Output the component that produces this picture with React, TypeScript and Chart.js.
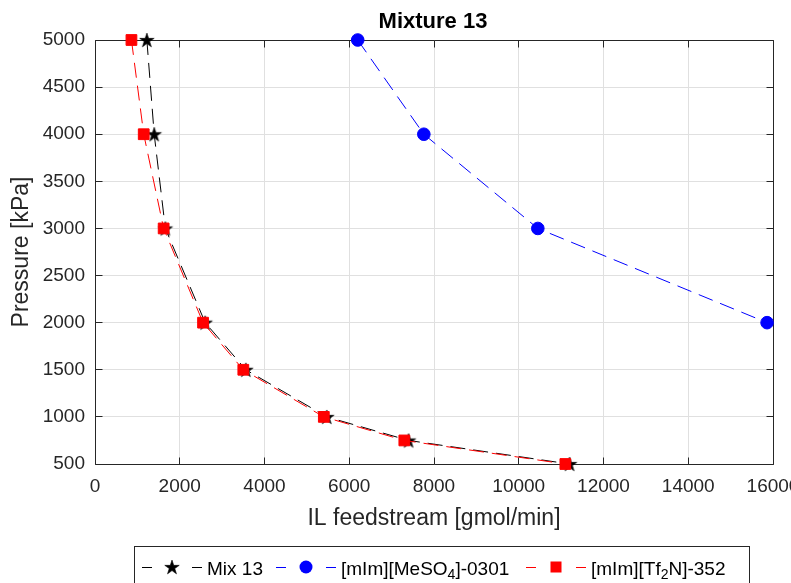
import React, { useEffect, useRef } from "react";
import { Chart, registerables } from "chart.js";

Chart.register(...registerables);

// ---- data ----
const xTickValues = [0, 2000, 4000, 6000, 8000, 10000, 12000, 14000, 16000];
const yTickValues = [500, 1000, 1500, 2000, 2500, 3000, 3500, 4000, 4500, 5000];

const mixPressures = [5000, 4000, 3000, 2000, 1500, 1000, 750, 500];
const mix13Feed = [1224, 1397, 1660, 2600, 3560, 5470, 7400, 11200];

const mesPressures = [5000, 4000, 3000, 2000];
const mesFeed = [6200, 7760, 10450, 15860];

const tf2nPressures = [5000, 4000, 3000, 2000, 1500, 1000, 750, 500];
const tf2nFeed = [860, 1150, 1620, 2550, 3500, 5400, 7300, 11100];

const titleText = "Mixture 13";
const xTitle = "IL feedstream [gmol/min]";
const yTitle = "Pressure [kPa]";

type Seg = { t: string; sub?: boolean };
const legendLabels: Seg[][] = [
  [{ t: "Mix 13" }],
  [{ t: "[mIm][MeSO" }, { t: "4", sub: true }, { t: "]-0301" }],
  [{ t: "[mIm][Tf" }, { t: "2", sub: true }, { t: "N]-352" }],
];

const FONT = "'Liberation Sans', Arial, Helvetica, sans-serif";
const AXIS_COLOR = "#262626";
const GRID_COLOR = "#e0e0e0";
const BLACK = "#000000";
const BLUE = "#0000ff";
const RED = "#ff0000";
const DASH = [15, 8];

function makeStar(): HTMLCanvasElement {
  const c = document.createElement("canvas");
  c.width = 18;
  c.height = 18;
  const g = c.getContext("2d")!;
  const cx = 9, cy = 9.7, R = 7.6, r = 2.9;
  g.beginPath();
  for (let i = 0; i < 10; i++) {
    const rad = i % 2 === 0 ? R : r;
    const a = -Math.PI / 2 + (i * Math.PI) / 5;
    const px = cx + rad * Math.cos(a);
    const py = cy + rad * Math.sin(a);
    if (i === 0) g.moveTo(px, py);
    else g.lineTo(px, py);
  }
  g.closePath();
  g.fillStyle = BLACK;
  g.fill();
  g.strokeStyle = BLACK;
  g.lineWidth = 0.6;
  g.stroke();
  return c;
}

const al = (p: number) => Math.round(p - 0.5) + 0.5;

function makePlugin(star: HTMLCanvasElement) {
  return {
    id: "matlabLook",
    beforeDatasetsDraw(chart: any) {
      const { ctx, chartArea: a, scales } = chart;
      const xs = scales.x, ys = scales.y;
      const L = al(a.left), R = al(a.right), T = al(a.top), B = al(a.bottom);
      ctx.save();
      ctx.strokeStyle = AXIS_COLOR;
      ctx.lineWidth = 1;
      ctx.beginPath();
      ctx.rect(L, T, R - L, B - T);
      const tl = 7;
      xTickValues.forEach((v) => {
        const px = al(xs.getPixelForValue(v));
        ctx.moveTo(px, B);
        ctx.lineTo(px, B - tl);
        ctx.moveTo(px, T);
        ctx.lineTo(px, T + tl);
      });
      yTickValues.forEach((v) => {
        const py = al(ys.getPixelForValue(v));
        ctx.moveTo(L, py);
        ctx.lineTo(L + tl, py);
        ctx.moveTo(R, py);
        ctx.lineTo(R - tl, py);
      });
      ctx.stroke();

      // x tick labels (centred on tick, may run off the page on the right)
      ctx.fillStyle = AXIS_COLOR;
      ctx.font = `19px ${FONT}`;
      ctx.textAlign = "center";
      ctx.textBaseline = "middle";
      xTickValues.forEach((v) => {
        ctx.fillText(String(v), xs.getPixelForValue(v), a.bottom + 23);
      });
      ctx.restore();
    },
    afterDraw(chart: any) {
      const { ctx, chartArea: a } = chart;
      ctx.save();
      // title
      ctx.fillStyle = BLACK;
      ctx.font = `bold 22px ${FONT}`;
      ctx.textAlign = "center";
      ctx.textBaseline = "alphabetic";
      ctx.fillText(titleText, (a.left + a.right) / 2 - 1, 28);

      // legend
      const boxL = 134.5, boxT = 546.5, boxR = 749.5;
      ctx.fillStyle = "#ffffff";
      ctx.fillRect(boxL, boxT, boxR - boxL, 60);
      ctx.strokeStyle = AXIS_COLOR;
      ctx.lineWidth = 1;
      ctx.strokeRect(boxL, boxT, boxR - boxL, 60);

      const starts = [142, 276, 526];
      const colors = [BLACK, BLUE, RED];
      const ly = 567;
      const baseY = 575;
      legendLabels.forEach((segs, i) => {
        const x0 = starts[i];
        ctx.strokeStyle = colors[i];
        ctx.lineWidth = 1;
        ctx.beginPath();
        ctx.moveTo(x0, ly + 0.5);
        ctx.lineTo(x0 + 10, ly + 0.5);
        ctx.moveTo(x0 + 50, ly + 0.5);
        ctx.lineTo(x0 + 60, ly + 0.5);
        ctx.stroke();
        const mx = x0 + 30;
        if (i === 0) {
          ctx.drawImage(star, mx - 9, ly - 9);
        } else if (i === 1) {
          ctx.fillStyle = BLUE;
          ctx.beginPath();
          ctx.arc(mx, ly, 6.5, 0, Math.PI * 2);
          ctx.fill();
        } else {
          ctx.fillStyle = RED;
          ctx.fillRect(mx - 5.5, ly - 5.5, 11, 11);
        }
        let tx = x0 + 65;
        ctx.fillStyle = BLACK;
        ctx.textAlign = "left";
        segs.forEach((s) => {
          if (s.sub) {
            ctx.font = `14px ${FONT}`;
            ctx.fillText(s.t, tx, baseY + 3.5);
          } else {
            ctx.font = `19px ${FONT}`;
            ctx.fillText(s.t, tx, baseY);
          }
          tx += ctx.measureText(s.t).width;
        });
      });
      ctx.restore();
    },
  };
}

export default function App() {
  const ref = useRef<HTMLCanvasElement | null>(null);

  useEffect(() => {
    if (!ref.current) return;
    const star = makeStar();
    const chart = new Chart(ref.current, {
      type: "line",
      data: {
        datasets: [
          {
            label: "Mix 13",
            data: mixPressures.map((p, i) => ({ x: mix13Feed[i], y: p })),
            borderColor: BLACK,
            borderWidth: 1,
            borderDash: DASH,
            pointStyle: star as any,
            pointRadius: 7,
            pointBackgroundColor: BLACK,
            pointBorderColor: BLACK,
            tension: 0,
            clip: false as any,
            order: 3,
          },
          {
            label: "[mIm][MeSO4]-0301",
            data: mesPressures.map((p, i) => ({ x: mesFeed[i], y: p })),
            borderColor: BLUE,
            borderWidth: 1,
            borderDash: DASH,
            pointStyle: "circle",
            pointRadius: 6.3,
            pointBorderWidth: 1,
            pointBackgroundColor: BLUE,
            pointBorderColor: BLUE,
            tension: 0,
            clip: false as any,
            order: 2,
          },
          {
            label: "[mIm][Tf2N]-352",
            data: tf2nPressures.map((p, i) => ({ x: tf2nFeed[i], y: p })),
            borderColor: RED,
            borderWidth: 1,
            borderDash: DASH,
            pointStyle: "rect",
            pointRadius: 7.6,
            pointBorderWidth: 1,
            pointBackgroundColor: RED,
            pointBorderColor: RED,
            tension: 0,
            clip: false as any,
            order: 1,
          },
        ],
      },
      options: {
        animation: false,
        responsive: false,
        events: [],
        layout: { padding: { top: 40, right: 37, bottom: 56, left: 0 } },
        plugins: {
          legend: { display: false },
          title: { display: false },
          tooltip: { enabled: false },
        },
        scales: {
          x: {
            type: "linear",
            min: 0,
            max: 16000,
            afterBuildTicks: (s: any) => {
              s.ticks = xTickValues.map((v) => ({ value: v }));
            },
            afterFit: (s: any) => {
              s.height = 80;
            },
            ticks: { display: false },
            grid: { color: GRID_COLOR, lineWidth: 1, drawTicks: false },
            border: { display: false },
            title: {
              display: true,
              text: xTitle,
              color: AXIS_COLOR,
              font: { family: FONT, size: 23 },
              padding: { top: 0, bottom: 12 },
            },
          },
          y: {
            type: "linear",
            min: 500,
            max: 5000,
            afterBuildTicks: (s: any) => {
              s.ticks = yTickValues.map((v) => ({ value: v }));
            },
            afterFit: (s: any) => {
              s.width = 95;
            },
            ticks: {
              autoSkip: false,
              padding: 10,
              color: AXIS_COLOR,
              font: { family: FONT, size: 19 },
              callback: (v: any) => String(v),
            },
            grid: { color: GRID_COLOR, lineWidth: 1, drawTicks: false },
            border: { display: false },
            title: {
              display: true,
              text: yTitle,
              color: AXIS_COLOR,
              font: { family: FONT, size: 23 },
              padding: { top: 8, bottom: 0 },
            },
          },
        },
      },
      plugins: [makePlugin(star)],
    } as any);
    return () => chart.destroy();
  }, []);

  return (
    <div
      style={{
        position: "fixed",
        left: 0,
        top: 0,
        width: 791,
        height: 583,
        overflow: "hidden",
        background: "#ffffff",
      }}
    >
      <canvas ref={ref} width={810} height={600} style={{ width: 810, height: 600, display: "block" }} />
    </div>
  );
}
